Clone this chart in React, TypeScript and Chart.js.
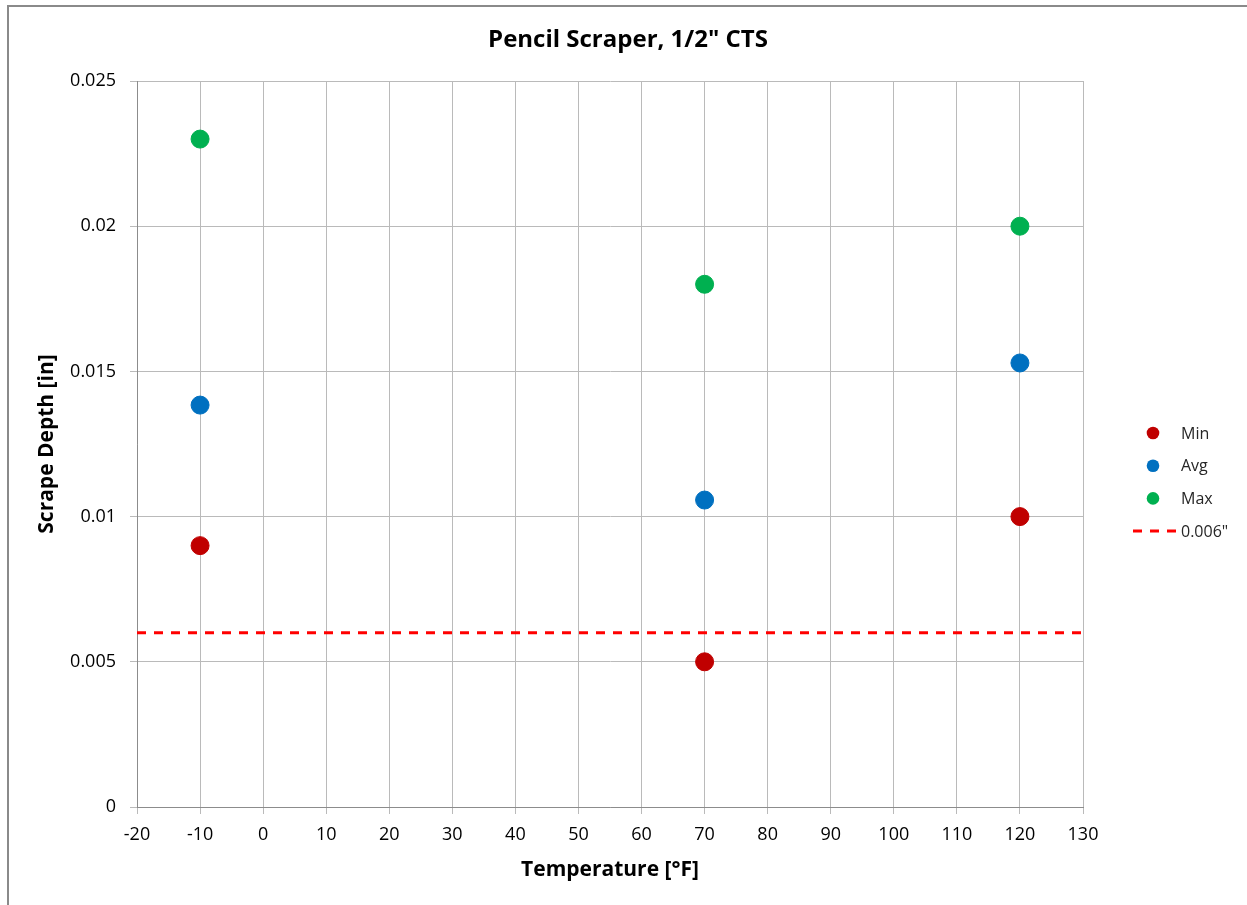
import React, { useEffect, useRef } from 'react';
import { Chart, registerables, layouts } from 'chart.js';

Chart.register(...registerables);

// ---- data ----
const TEMPERATURES = [-10, 70, 120];
const MIN_DEPTH = [0.009, 0.005, 0.01];
const AVG_DEPTH = [0.01384, 0.01057, 0.01529];
const MAX_DEPTH = [0.023, 0.018, 0.02];
const LIMIT_X = [-20, 130];
const LIMIT_Y = [0.006, 0.006];
const SERIES_NAMES = ['Min', 'Avg', 'Max', '0.006"'];
const Y_TICK_LABELS = ['0', '0.005', '0.01', '0.015', '0.02', '0.025'];
const X_TICK_LABELS = ['-20', '-10', '0', '10', '20', '30', '40', '50', '60', '70', '80', '90', '100', '110', '120', '130'];
const TITLE = 'Pencil Scraper, 1/2" CTS';
const X_TITLE = 'Temperature [°F]';
const Y_TITLE = 'Scrape Depth [in]';

const FONT = '"Open Sans"';
const LEGEND_WIDTH = 164;

const toPoints = (xs: number[], ys: number[]) => xs.map((x, i) => ({ x, y: ys[i] }));

const framePlugin = {
  id: 'frame',
  beforeDraw(chart: any) {
    const { ctx, width, height } = chart;
    ctx.save();
    ctx.fillStyle = '#ffffff';
    ctx.fillRect(0, 0, width, height);
    ctx.strokeStyle = '#8a8a8a';
    ctx.lineWidth = 2;
    ctx.beginPath();
    ctx.moveTo(8, height + 2);
    ctx.lineTo(8, 6);
    ctx.lineTo(width + 2, 6);
    ctx.stroke();
    ctx.restore();
  },
};

const sideLegendPlugin = {
  id: 'sideLegend',
  start(chart: any) {
    const box: any = {
      position: 'right',
      weight: 1000,
      fullSize: false,
      options: {},
      left: 0, top: 0, right: 0, bottom: 0, width: 0, height: 0,
      isHorizontal() { return false; },
      update(_maxWidth: number, maxHeight: number) {
        this.width = LEGEND_WIDTH;
        this.height = maxHeight;
      },
      draw() {
        const ctx = chart.ctx;
        const datasets = chart.data.datasets;
        ctx.save();
        ctx.font = `16px ${FONT}`;
        ctx.textBaseline = 'middle';
        ctx.textAlign = 'left';
        const firstY = box.top + 352;
        const step = 32.7;
        datasets.forEach((ds: any, i: number) => {
          const y = firstY + i * step;
          if (ds.showLine) {
            ctx.strokeStyle = ds.borderColor;
            ctx.lineWidth = ds.borderWidth;
            ctx.setLineDash(ds.borderDash || []);
            ctx.beginPath();
            ctx.moveTo(box.left + 50, y);
            ctx.lineTo(box.left + 93, y);
            ctx.stroke();
            ctx.setLineDash([]);
          } else {
            ctx.fillStyle = ds.backgroundColor;
            ctx.beginPath();
            ctx.arc(box.left + 70, y, 6.3, 0, Math.PI * 2);
            ctx.fill();
          }
          ctx.fillStyle = '#262626';
          ctx.fillText(ds.label, box.left + 98, y + 1);
        });
        ctx.restore();
      },
    };
    chart.$sideLegend = box;
    layouts.addBox(chart, box);
  },
  stop(chart: any) {
    if (chart.$sideLegend) {
      layouts.removeBox(chart, chart.$sideLegend);
      delete chart.$sideLegend;
    }
  },
};

export default function App() {
  const canvasRef = useRef<HTMLCanvasElement | null>(null);

  useEffect(() => {
    const canvas = canvasRef.current;
    if (!canvas) return;
    const pointDs = (label: string, ys: number[], color: string) => ({
      type: 'scatter' as const,
      label,
      data: toPoints(TEMPERATURES, ys),
      backgroundColor: color,
      borderColor: color,
      borderWidth: 1,
      pointRadius: 9,
      pointHoverRadius: 9,
      showLine: false,
    });
    const chart = new Chart(canvas, {
      type: 'scatter',
      data: {
        datasets: [
          pointDs(SERIES_NAMES[0], MIN_DEPTH, '#C00000'),
          pointDs(SERIES_NAMES[1], AVG_DEPTH, '#0070C0'),
          pointDs(SERIES_NAMES[2], MAX_DEPTH, '#00B050'),
          {
            type: 'scatter' as const,
            label: SERIES_NAMES[3],
            data: toPoints(LIMIT_X, LIMIT_Y),
            showLine: true,
            borderColor: '#FF0000',
            backgroundColor: '#FF0000',
            borderWidth: 3,
            borderDash: [9, 8],
            pointRadius: 0,
            pointHoverRadius: 0,
          } as any,
        ],
      },
      options: {
        responsive: false,
        animation: false,
        devicePixelRatio: 1,
        layout: { padding: { left: 9, right: 0, top: 0, bottom: 0 } },
        font: { family: FONT },
        plugins: {
          legend: { display: false },
          tooltip: { enabled: false },
          title: {
            display: true,
            text: TITLE,
            color: '#000000',
            font: { family: FONT, size: 24, weight: 'bold' },
            padding: { top: 25.6, bottom: 26.6 },
          },
        },
        scales: {
          x: {
            type: 'linear',
            min: -20,
            max: 130,
            ticks: {
              stepSize: 10,
              color: '#000000',
              font: { family: FONT, size: 18 },
              padding: 10,
              maxRotation: 0,
              autoSkip: false,
              callback: (_v: any, i: number) => X_TICK_LABELS[i],
            },
            grid: { color: '#bababa', tickLength: 7 },
            border: { color: '#8c8c8c' },
            title: {
              display: true,
              text: X_TITLE,
              color: '#000000',
              font: { family: FONT, size: 21, weight: 'bold' },
              padding: { top: 0, bottom: 22.4 },
            },
            afterFit: (scale: any) => { scale.height = 98; },
          },
          y: {
            type: 'linear',
            min: 0,
            max: 0.025,
            ticks: {
              stepSize: 0.005,
              color: '#000000',
              font: { family: FONT, size: 18 },
              padding: 14,
              autoSkip: false,
              callback: (_v: any, i: number) => Y_TICK_LABELS[i],
            },
            grid: { color: '#bababa', tickLength: 7 },
            border: { color: '#8c8c8c' },
            title: {
              display: true,
              text: Y_TITLE,
              color: '#000000',
              font: { family: FONT, size: 21, weight: 'bold' },
              padding: { top: 25.4, bottom: 0 },
            },
            afterFit: (scale: any) => { scale.width = 128; },
          },
        },
      } as any,
      plugins: [framePlugin, sideLegendPlugin] as any,
    });
    return () => chart.destroy();
  }, []);

  return (
    <div style={{ position: 'fixed', left: 0, top: 0, width: 1247, height: 905, background: '#ffffff' }}>
      <canvas ref={canvasRef} width={1247} height={905} style={{ display: 'block', width: 1247, height: 905 }} />
    </div>
  );
}
